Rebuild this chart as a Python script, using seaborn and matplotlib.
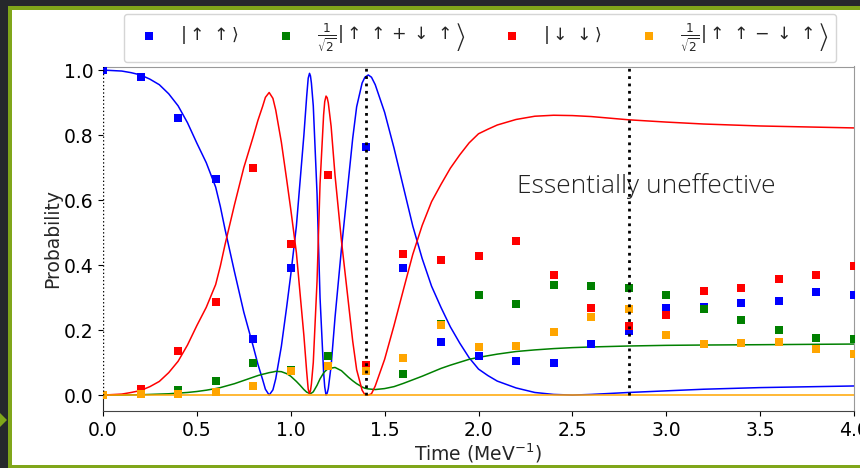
import matplotlib
matplotlib.use("Agg")
import matplotlib.pyplot as plt
from matplotlib.patches import Rectangle, Polygon
import seaborn as sns

# sampled states (squares), t = 0.0, 0.2, ... 4.0
t_pts = [0.0, 0.2, 0.4, 0.6, 0.8, 1.0, 1.2, 1.4, 1.6, 1.8, 2.0,
         2.2, 2.4, 2.6, 2.8, 3.0, 3.2, 3.4, 3.6, 3.8, 4.0]
upup_pts = [1.0, 0.978, 0.852, 0.664, 0.174, 0.392, 0.12, 0.764, 0.392, 0.162, 0.12,
            0.104, 0.10, 0.158, 0.198, 0.267, 0.27, 0.284, 0.289, 0.316, 0.309]
sym_pts = [0.0, 0.002, 0.016, 0.043, 0.10, 0.076, 0.119, 0.08, 0.065, 0.22, 0.309,
           0.279, 0.34, 0.337, 0.328, 0.309, 0.264, 0.231, 0.199, 0.176, 0.174]
dndn_pts = [0.0, 0.018, 0.135, 0.286, 0.70, 0.464, 0.676, 0.092, 0.435, 0.415, 0.429,
            0.474, 0.369, 0.267, 0.213, 0.246, 0.32, 0.331, 0.357, 0.371, 0.397]
anti_pts = [0.0, 0.002, 0.003, 0.008, 0.029, 0.074, 0.089, 0.074, 0.113, 0.217, 0.148,
            0.15, 0.194, 0.24, 0.264, 0.185, 0.158, 0.159, 0.162, 0.141, 0.126]

# exact evolution (lines)
t_curve = [0.0, 0.1, 0.15, 0.2, 0.25, 0.3, 0.35, 0.4, 0.45, 0.5, 0.55, 0.6, 0.625, 0.65,
           0.675, 0.7, 0.75, 0.8, 0.825, 0.85, 0.865, 0.885, 0.905, 0.92, 0.95, 0.978,
           1.0, 1.03, 1.05, 1.07, 1.085, 1.093, 1.1, 1.105, 1.11, 1.12, 1.14, 1.156,
           1.175, 1.181, 1.188, 1.194, 1.2, 1.215, 1.236, 1.27, 1.307, 1.33, 1.351, 1.38,
           1.395, 1.413, 1.43, 1.45, 1.5, 1.55, 1.6, 1.65, 1.7, 1.75, 1.8, 1.85, 1.9,
           1.95, 2.0, 2.05, 2.1, 2.2, 2.3, 2.4, 2.5, 2.6, 2.8, 3.0, 3.2, 3.5, 4.0]
upup_curve = [1.0, 0.997, 0.992, 0.985, 0.972, 0.955, 0.927, 0.89, 0.838, 0.775, 0.715,
              0.64, 0.58, 0.51, 0.445, 0.38, 0.255, 0.15, 0.095, 0.048, 0.018, 0.0, 0.016,
              0.05, 0.15, 0.27, 0.37, 0.52, 0.66, 0.80, 0.92, 0.975, 0.99, 0.982, 0.96,
              0.89, 0.62, 0.30, 0.07, 0.025, 0.0, 0.006, 0.02, 0.09, 0.24, 0.45, 0.66,
              0.79, 0.887, 0.96, 0.978, 0.985, 0.978, 0.955, 0.87, 0.76, 0.64, 0.52, 0.42,
              0.335, 0.27, 0.21, 0.16, 0.115, 0.08, 0.06, 0.043, 0.022, 0.008, 0.002, 0.0,
              0.002, 0.008, 0.013, 0.018, 0.023, 0.028]
sym_curve = [0.0, 0.0, 0.0005, 0.001, 0.002, 0.003, 0.004, 0.006, 0.008, 0.011, 0.015,
             0.02, 0.023, 0.027, 0.031, 0.035, 0.045, 0.055, 0.06, 0.064, 0.066, 0.069,
             0.071, 0.073, 0.072, 0.066, 0.058, 0.042, 0.03, 0.017, 0.009, 0.007, 0.005,
             0.005, 0.006, 0.01, 0.03, 0.05, 0.068, 0.072, 0.076, 0.079, 0.081, 0.083,
             0.085, 0.075, 0.055, 0.044, 0.035, 0.025, 0.021, 0.019, 0.018, 0.017, 0.02,
             0.026, 0.036, 0.047, 0.058, 0.07, 0.082, 0.092, 0.101, 0.11, 0.116, 0.121,
             0.126, 0.134, 0.139, 0.143, 0.146, 0.148, 0.151, 0.153, 0.154, 0.155, 0.157]
dndn_curve = [0.0, 0.003, 0.008, 0.014, 0.026, 0.042, 0.069, 0.104, 0.154, 0.214, 0.27,
              0.34, 0.397, 0.463, 0.524, 0.585, 0.70, 0.795, 0.845, 0.888, 0.916, 0.931,
              0.913, 0.877, 0.778, 0.664, 0.572, 0.438, 0.31, 0.183, 0.071, 0.018, 0.005,
              0.013, 0.034, 0.10, 0.35, 0.65, 0.862, 0.903, 0.92, 0.915, 0.899, 0.827,
              0.675, 0.475, 0.285, 0.166, 0.078, 0.015, 0.001, 0.0, 0.004, 0.028, 0.11,
              0.214, 0.324, 0.433, 0.522, 0.595, 0.648, 0.698, 0.739, 0.776, 0.804, 0.818,
              0.831, 0.848, 0.858, 0.861, 0.86, 0.857, 0.847, 0.84, 0.834, 0.828, 0.822]
anti_t = [0.0, 4.0]
anti_curve = [0.0, 0.0]

labels = [r'$|\uparrow\,\uparrow\rangle$',
          r'$\left.\frac{1}{\sqrt{2}}|\uparrow\,\uparrow+\downarrow\,\uparrow\right\rangle$',
          r'$|\downarrow\,\downarrow\rangle$',
          r'$\left.\frac{1}{\sqrt{2}}|\uparrow\,\uparrow-\downarrow\,\uparrow\right\rangle$']
colors = ['#0000ff', '#008000', '#ff0000', '#ffa500']

sns.set_style("ticks")
plt.rcParams['font.size'] = 13.5

W, H = 860, 468
fig = plt.figure(figsize=(W / 100, H / 100), dpi=100, facecolor='#26282c')

# slide frame
fig.patches.append(Rectangle((8 / W, 0), 1, 462 / H, transform=fig.transFigure,
                             facecolor='#80a61a', edgecolor='none', zorder=-2))
fig.patches.append(Rectangle((12 / W, 3 / H), 1, 455 / H, transform=fig.transFigure,
                             facecolor='white', edgecolor='none', zorder=-1))
fig.patches.append(Polygon([(0, 41 / H), (7 / W, 48 / H), (0, 55 / H)], closed=True,
                           transform=fig.transFigure, facecolor='#80a61a',
                           edgecolor='none', zorder=-1))

ax = fig.add_axes([103 / W, 57 / H, 751 / W, 344.5 / H])
ax.set_facecolor('white')

curves = [(t_curve, upup_curve), (t_curve, sym_curve), (t_curve, dndn_curve), (anti_t, anti_curve)]
points = [upup_pts, sym_pts, dndn_pts, anti_pts]

for (tc, yc), c in zip(curves, colors):
    sns.lineplot(x=tc, y=yc, color=c, lw=1.1, ax=ax, legend=False)

for yp, c, lab in zip(points, colors, labels):
    sns.scatterplot(x=t_pts, y=yp, color=c, marker='s', s=28, linewidth=0,
                    label=lab, ax=ax, zorder=3)

ax.vlines(0.0, 0, 1.02, colors='black', linestyles=':', lw=1.0, zorder=4)
ax.vlines([1.4, 2.8], 0, 1.02, colors='black', linestyles=':', lw=2.0, zorder=4)

ax.text(2.205, 0.643, 'Essentially uneffective', fontsize=19, family='Open Sans',
        fontweight='light', color='#222222', ha='left', va='center')

ax.set_xlim(0, 4.0)
ax.set_ylim(-0.049, 1.011)
ax.set_xticks([0.0, 0.5, 1.0, 1.5, 2.0, 2.5, 3.0, 3.5, 4.0])
ax.set_yticks([0.0, 0.2, 0.4, 0.6, 0.8, 1.0])
ax.set_xlabel('Time (MeV$^{-1}$)', fontsize=13.5, labelpad=1)
ax.set_ylabel('Probability', fontsize=13.5, labelpad=1)
ax.tick_params(labelsize=13.5, colors='black')
ax.spines['left'].set_bounds(-0.049, 0)
ax.spines['top'].set_color('#999999')
ax.spines['right'].set_color('#999999')
ax.spines['bottom'].set_color('#444444')

ax.legend(loc='upper center', bbox_to_anchor=(480 / W, 454 / H), bbox_transform=fig.transFigure,
          ncol=4, fontsize=12.5, frameon=True, edgecolor='#d5d5d5', framealpha=1,
          handletextpad=0.8, columnspacing=1.7, borderpad=0.45, borderaxespad=0)

fig.savefig('out.png', dpi=100, facecolor=fig.get_facecolor())
